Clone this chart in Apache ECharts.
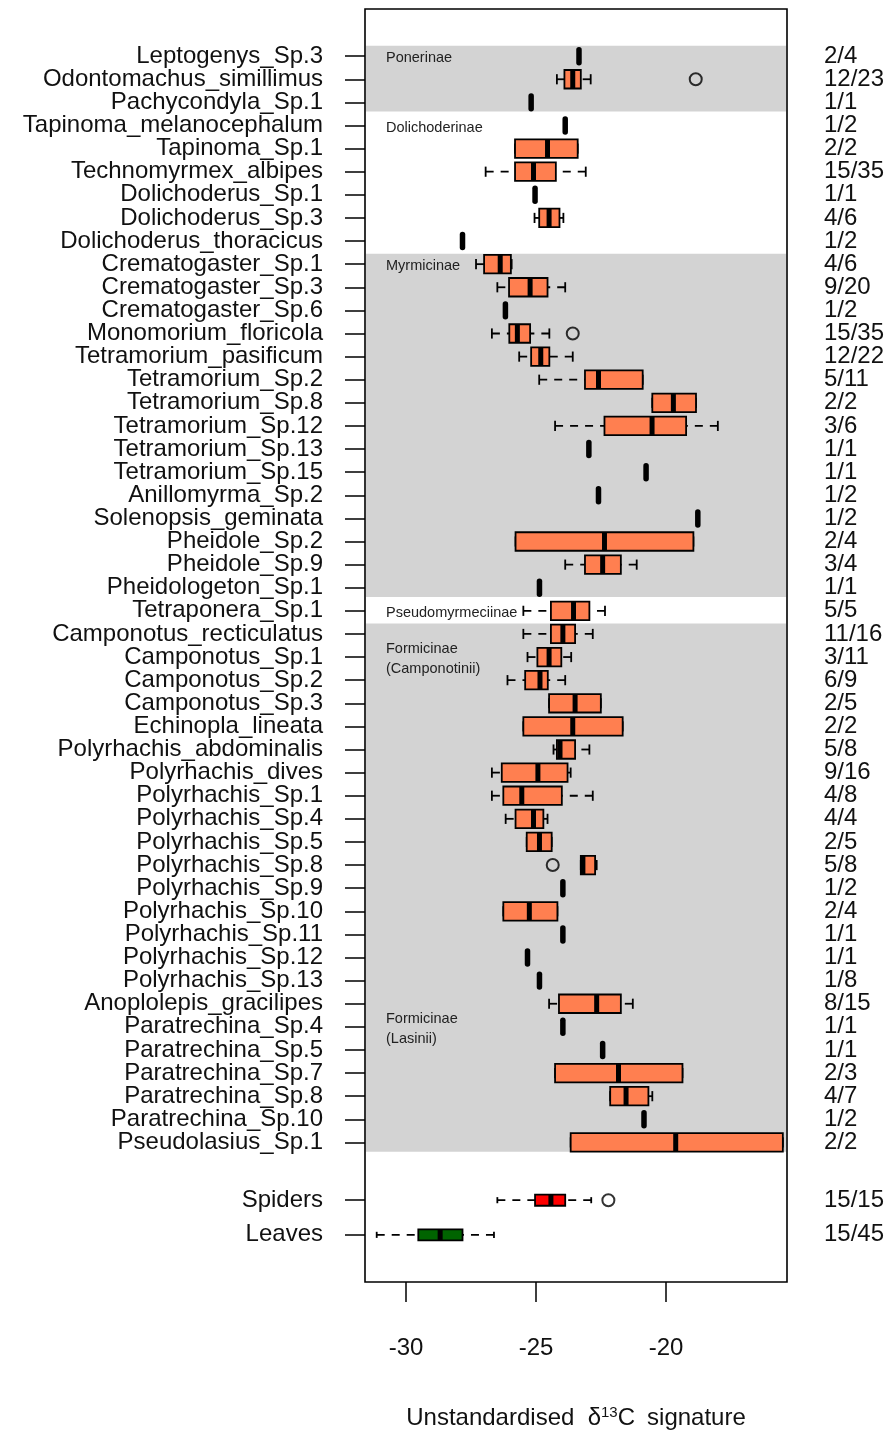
<!DOCTYPE html>
<html><head><meta charset="utf-8">
<script src="https://cdn.jsdelivr.net/npm/echarts@6/dist/echarts.min.js"></script>
<style>html,body{margin:0;padding:0;background:#fff}#c{width:888px;height:1431px}</style>
</head><body><div id="c"></div><script>
// ---------- data ----------
const species = [
 'Leptogenys_Sp.3','Odontomachus_simillimus','Pachycondyla_Sp.1','Tapinoma_melanocephalum','Tapinoma_Sp.1',
 'Technomyrmex_albipes','Dolichoderus_Sp.1','Dolichoderus_Sp.3','Dolichoderus_thoracicus','Crematogaster_Sp.1',
 'Crematogaster_Sp.3','Crematogaster_Sp.6','Monomorium_floricola','Tetramorium_pasificum','Tetramorium_Sp.2',
 'Tetramorium_Sp.8','Tetramorium_Sp.12','Tetramorium_Sp.13','Tetramorium_Sp.15','Anillomyrma_Sp.2',
 'Solenopsis_geminata','Pheidole_Sp.2','Pheidole_Sp.9','Pheidologeton_Sp.1','Tetraponera_Sp.1',
 'Camponotus_recticulatus','Camponotus_Sp.1','Camponotus_Sp.2','Camponotus_Sp.3','Echinopla_lineata',
 'Polyrhachis_abdominalis','Polyrhachis_dives','Polyrhachis_Sp.1','Polyrhachis_Sp.4','Polyrhachis_Sp.5',
 'Polyrhachis_Sp.8','Polyrhachis_Sp.9','Polyrhachis_Sp.10','Polyrhachis_Sp.11','Polyrhachis_Sp.12',
 'Polyrhachis_Sp.13','Anoplolepis_gracilipes','Paratrechina_Sp.4','Paratrechina_Sp.5','Paratrechina_Sp.7',
 'Paratrechina_Sp.8','Paratrechina_Sp.10','Pseudolasius_Sp.1'
];
const counts = [
 '2/4','12/23','1/1','1/2','2/2','15/35','1/1','4/6','1/2','4/6',
 '9/20','1/2','15/35','12/22','5/11','2/2','3/6','1/1','1/1','1/2',
 '1/2','2/4','3/4','1/1','5/5','11/16','3/11','6/9','2/5','2/2',
 '5/8','9/16','4/8','4/4','2/5','5/8','1/2','2/4','1/1','1/1',
 '1/8','8/15','1/1','1/1','2/3','4/7','1/2','2/2'
];
// [lower whisker, Q1, median, Q3, upper whisker]; a single number = one value
const stats = [
 -23.35, [-24.2,-23.91,-23.59,-23.28,-22.9], -25.19, -23.88, [-25.81,-25.81,-24.56,-23.40,-23.40],
 [-26.94,-25.81,-25.10,-24.24,-23.09], -25.04, [-25.06,-24.88,-24.5,-24.1,-23.95], -27.83, [-27.31,-27.0,-26.38,-25.97,-25.94],
 [-26.49,-26.04,-25.23,-24.56,-23.88], -26.18, [-26.70,-26.03,-25.72,-25.23,-24.49], [-25.65,-25.19,-24.82,-24.49,-23.59], [-24.88,-23.12,-22.60,-20.90,-20.90],
 [-20.53,-20.53,-19.72,-18.85,-18.85], [-24.27,-22.37,-20.54,-19.23,-18.01], -22.97, -20.77, -22.60,
 -18.78, [-25.79,-25.79,-22.37,-18.95,-18.95], [-23.88,-23.12,-22.44,-21.74,-21.13], -24.87, [-25.49,-24.43,-23.56,-22.95,-22.35],
 [-25.49,-24.43,-23.97,-23.5,-22.82], [-25.33,-24.95,-24.5,-24.03,-23.65], [-26.1,-25.42,-24.85,-24.55,-23.88], [-24.5,-24.5,-23.5,-22.51,-22.51], [-25.49,-25.49,-23.59,-21.67,-21.67],
 [-24.33,-24.2,-24.08,-23.5,-22.95], [-26.70,-26.32,-24.93,-23.79,-23.67], [-26.70,-26.26,-25.55,-24.01,-22.82], [-26.17,-25.79,-25.10,-24.72,-24.56], [-25.36,-25.36,-24.87,-24.40,-24.40],
 [-23.28,-23.28,-23.2,-22.73,-22.67], -23.97, [-26.26,-26.26,-25.26,-24.18,-24.18], -23.97, -25.33,
 -24.87, [-24.5,-24.12,-22.67,-21.74,-21.28], -23.97, -22.44, [-24.27,-24.27,-21.83,-19.37,-19.37],
 [-22.15,-22.15,-21.54,-20.68,-20.53], -20.85, [-23.67,-23.67,-19.63,-15.51,-15.51]
];
const outliers = [['Odontomachus_simillimus',-18.86],['Monomorium_floricola',-23.59],['Polyrhachis_Sp.8',-24.36],['Spiders',-22.22]];
const refNames = ['Spiders','Leaves'];
const refCounts = ['15/15','15/45'];
const refStats = [[-26.49,-25.04,-24.43,-23.88,-22.88],[-31.13,-29.53,-28.69,-27.83,-26.62]];
const xTicks = [-30,-25,-20];
// subfamily bands: first and last species (1-based rows), shaded or not
const subfamilies = [
 {first:1, last:3, shaded:true}, {first:4, last:9, shaded:false}, {first:10, last:24, shaded:true},
 {first:25, last:25, shaded:false}, {first:26, last:48, shaded:true}
];
const groupLabels = [
 ['Ponerinae',1],['Dolichoderinae',4],['Myrmicinae',10],['Pseudomyrmeciinae',25],
 ['Formicinae\n(Camponotinii)',27],['Formicinae\n(Lasinii)',43]
];
// ---------- layout ----------
const xMin = -31.58, xMax = -15.35;
const yMin = -1.04, yMax = 54.04;
const FONT = 'Liberation Sans, Arial, sans-serif';
const boxColors = ['#FF7F50','#FF0000','#006400'];

const rowPos = species.map((s,i) => i + 1);
const refPos = refNames.map((s,k) => species.length + 2.5 + 1.5*k);
const allPos = rowPos.concat(refPos);
const labelPos = [yMin].concat(allPos); // empty label at the axis end keeps ECharts from hiding the first name
const allNames = species.concat(refNames);
const allCounts = counts.concat(refCounts);
function nameAt(v){ const i = allPos.findIndex(p => Math.abs(p - v) < 1e-6); return i < 0 ? '' : allNames[i]; }
function countAt(v){ const i = allPos.findIndex(p => Math.abs(p - v) < 1e-6); return i < 0 ? '' : allCounts[i]; }

const boxData = [];
stats.forEach((s,i) => {
  const a = Array.isArray(s) ? s : [s,s,s,s,s];
  boxData.push([rowPos[i]].concat(a).concat([0]));
});
refStats.forEach((s,k) => boxData.push([refPos[k]].concat(s).concat([k+1])));
const outlierData = outliers.map(o => [o[1], allPos[allNames.indexOf(o[0])]]);
const bandData = subfamilies.filter(s => s.shaded).map(s => [xMin, s.first, s.last]);
const labelData = groupLabels.map(g => [xMin, g[1]]);

function renderBand(params, api){
  const b = bandData[params.dataIndex];
  const cs = params.coordSys;
  const y1 = api.coord([xMin, b[1] - 0.45])[1];
  const y2 = api.coord([xMin, b[2] + 0.4])[1];
  return {type:'rect', shape:{x:cs.x+1, y:y1, width:cs.width-2, height:y2-y1}, style:{fill:'#D3D3D3'}};
}
function renderLabel(params, api){
  const g = groupLabels[params.dataIndex];
  const cs = params.coordSys;
  const y = api.coord([xMin, g[1] + 0.1])[1];
  return {type:'text', x: cs.x + 21, y: y, style:{text:g[0], fill:'#222', font:'14.5px ' + FONT, textAlign:'left', textVerticalAlign:'middle', lineHeight:20}};
}
function renderBox(params, api){
  const row = api.value(0);
  const kind = api.value(6);
  const vals = [1,2,3,4,5].map(i => api.value(i));
  const cy = api.coord([vals[2], row])[1];
  const unit = api.size([0,1])[1];
  const h = (kind === 0 ? 0.8 : 0.48) * unit;
  const px = vals.map(v => api.coord([v, row])[0]);
  const top = cy - h/2;
  const ch = [];
  if (Math.abs(px[4]-px[0]) < 0.5) {
    ch.push({type:'rect', shape:{x:px[2]-2.75, y:top, width:5.5, height:h, r:2.75}, style:{fill:'#000'}});
    return {type:'group', children:ch};
  }
  const wl = {stroke:'#000', lineWidth:1.8, lineDash:[8,7]};
  if (px[1]-px[0] > 0.5) ch.push({type:'line', shape:{x1:px[0],y1:cy,x2:px[1],y2:cy}, style:wl});
  if (px[4]-px[3] > 0.5) ch.push({type:'line', shape:{x1:px[4],y1:cy,x2:px[3],y2:cy}, style:wl});
  const capH = h*0.55;
  [px[0],px[4]].forEach(x => ch.push({type:'line', shape:{x1:x,y1:cy-capH/2,x2:x,y2:cy+capH/2}, style:{stroke:'#000', lineWidth:1.8}}));
  ch.push({type:'rect', shape:{x:px[1], y:top, width:px[3]-px[1], height:h}, style:{fill:boxColors[kind], stroke:'#000', lineWidth:1.8}});
  ch.push({type:'rect', shape:{x:px[2]-2.5, y:top, width:5, height:h}, style:{fill:'#000'}});
  return {type:'group', children:ch};
}

const chart = echarts.init(document.getElementById('c'), null, {renderer:'canvas'});
chart.setOption({
  animation:false,
  backgroundColor:'#fff',
  grid:{left:365, right:101, top:9, bottom:149, show:true, borderColor:'#000', borderWidth:1.6, backgroundColor:'transparent', containLabel:false, outerBoundsMode:'none'},
  xAxis:{
    type:'value', min:xMin, max:xMax,
    axisLine:{show:false, onZero:false}, splitLine:{show:false},
    axisTick:{show:true, length:20, customValues:xTicks, lineStyle:{color:'#000', width:1.5}},
    axisLabel:{customValues:xTicks, margin:54, fontSize:24, color:'#111', fontFamily:FONT, showMinLabel:true, showMaxLabel:true},
    name:'Unstandardised  δ{sup|13}C\u2002signature', nameLocation:'middle', nameGap:123,
    nameTextStyle:{fontSize:24, color:'#111', fontFamily:FONT, rich:{sup:{fontSize:15, color:'#111', fontFamily:FONT, verticalAlign:'top', padding:[0,0,12,0]}}}
  },
  yAxis:[{
    type:'value', min:yMin, max:yMax, inverse:true,
    axisLine:{show:false}, splitLine:{show:false},
    axisTick:{show:true, length:20, customValues:allPos, lineStyle:{color:'#000', width:1.5}},
    axisLabel:{customValues:labelPos, formatter:nameAt, margin:42, fontSize:24, lineHeight:6, color:'#111', fontFamily:FONT, padding:[15,0,0,0], hideOverlap:false}
  },{
    type:'value', min:yMin, max:yMax, inverse:true, position:'right',
    axisLine:{show:false}, splitLine:{show:false}, axisTick:{show:false},
    axisLabel:{customValues:labelPos, formatter:countAt, margin:37, fontSize:24, lineHeight:6, color:'#111', fontFamily:FONT, align:'left', padding:[15,0,0,0], hideOverlap:false}
  }],
  series:[
    {type:'custom', renderItem:renderBand, data:bandData, z:1, silent:true},
    {type:'custom', renderItem:renderLabel, data:labelData, z:2, silent:true},
    {type:'custom', renderItem:renderBox, data:boxData, z:3, silent:true, dimensions:['row','lo','q1','med','q3','hi','kind'], encode:{x:[1,2,3,4,5], y:0}},
    {type:'scatter', data:outlierData, symbol:'circle', symbolSize:12, z:4, silent:true,
     itemStyle:{color:'rgba(0,0,0,0)', borderColor:'#000', borderWidth:2}}
  ]
});
</script></body></html>
